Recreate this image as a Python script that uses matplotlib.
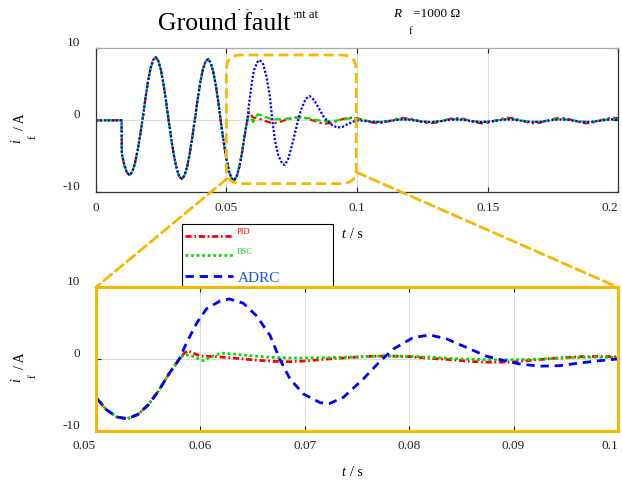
import numpy as np
import matplotlib.pyplot as plt
from matplotlib.patches import FancyBboxPatch, ConnectionPatch, Rectangle
from matplotlib.lines import Line2D
from matplotlib.ticker import FuncFormatter


# =========================
# DADOS
# =========================
# trecho comum às três curvas (ms, A)
t_comum_ms = [0, 9.9, 10, 11, 12, 13, 14, 15, 16, 17, 18, 19, 20, 21, 22, 23, 24,
              25, 26, 27, 28, 29, 30, 31, 32, 33, 34, 35, 36, 37, 38, 39, 40, 41,
              42, 43, 44, 45, 46, 47, 48, 49, 50, 51, 52, 53, 54, 55, 56, 57, 58]
i_comum = [0, 0, -4.66, -6.29, -7.30, -7.60, -7.15, -6.00, -4.27, -2.12, 0.26,
           2.97, 5.36, 7.24, 8.40, 8.75, 8.23, 6.91, 4.92, 2.44, -0.25, -2.76,
           -5.00, -6.74, -7.82, -8.15, -7.67, -6.44, -4.58, -2.27, 0.26, 2.88,
           5.21, 7.03, 8.16, 8.50, 8.00, 6.72, 4.78, 2.37, -0.53, -3.07, -5.32,
           -7.05, -8.09, -8.33, -7.76, -6.43, -4.47, -2.08, 0.0]

# depois da atuação de cada controlador
t_pid_ms = [58.4, 58.8, 59.3, 60, 61.5, 63, 65, 67, 68.5, 70, 72, 74, 76, 78, 80,
            82, 84, 86, 88, 90, 92, 94, 96, 98]
i_pid = [0.7, 1.15, 0.85, 0.4, 0.33, 0.16, -0.12, -0.33, -0.38, -0.28, -0.02,
         0.18, 0.36, 0.42, 0.33, 0.1, -0.1, -0.36, -0.46, -0.4, -0.15, 0.12,
         0.3, 0.36]

t_bsc_ms = [58.4, 59, 59.7, 60.3, 60.9, 62, 63.2, 64.8, 66.7, 68.6, 70.5, 72.5,
            75, 77.5, 80, 82, 84, 86, 88, 90, 92, 94, 96, 98]
i_bsc = [0.55, 0.56, 0.1, -0.23, 0.23, 0.83, 0.7, 0.47, 0.23, 0.14, 0.15, 0.2,
         0.3, 0.42, 0.37, 0.25, 0.08, -0.04, -0.1, -0.1, -0.04, 0.08, 0.22, 0.26]

t_adrc_ms = [58.7, 59.7, 60.6, 61.9, 62.8, 64.1, 65.4, 66.7, 67.6, 68.6, 69.9,
             71.5, 72.4, 73.7, 75.6, 77.2, 78.5, 80.4, 82, 83.6, 85.5, 87.4, 89,
             90.6, 92.5, 94.4, 96.3, 98.2]
i_adrc = [2.3, 5.1, 7.0, 8.1, 8.37, 7.8, 6.0, 3.25, 0.0, -2.8, -4.9, -6.1, -6.2,
          -5.35, -2.8, -0.35, 1.4, 3.0, 3.35, 2.8, 1.6, 0.4, -0.2, -0.7, -1.0,
          -0.93, -0.56, -0.24]

# regime (0.1 s a 0.2 s)
t_cauda_ms = [100, 102.5, 105, 107.5, 110, 112.5, 115, 117.5, 120, 122.5, 125,
              127.5, 130, 132.5, 135, 137.5, 140, 142.5, 145, 147.5, 150, 152.5,
              155, 157.5, 160, 162.5, 165, 167.5, 170, 172.5, 175, 177.5, 180,
              182.5, 185, 187.5, 190, 192.5, 195, 197.5, 200]
cauda_pid = [0.30, 0.03, -0.25, -0.40, -0.33, -0.09, 0.18, 0.32, 0.26, 0.02,
             -0.26, -0.42, -0.34, -0.09, 0.17, 0.31, 0.27, 0.03, -0.26, -0.42,
             -0.35, -0.09, 0.19, 0.35, 0.28, 0.03, -0.26, -0.42, -0.34, -0.08,
             0.19, 0.35, 0.28, 0.03, -0.26, -0.42, -0.34, -0.08, 0.19, 0.35, 0.30]
cauda_bsc = [0.20, 0.01, -0.14, -0.22, -0.18, -0.05, 0.10, 0.18, 0.14, 0.01,
             -0.14, -0.22, -0.18, -0.05, 0.10, 0.18, 0.14, 0.01, -0.14, -0.22,
             -0.18, -0.05, 0.10, 0.19, 0.15, 0.01, -0.14, -0.22, -0.18, -0.05,
             0.10, 0.19, 0.15, 0.01, -0.14, -0.22, -0.18, -0.05, 0.10, 0.19, 0.16]
cauda_adrc = [0.0, -0.06, -0.18, -0.25, -0.22, -0.10, 0.04, 0.11, 0.08, -0.04,
              -0.18, -0.25, -0.22, -0.10, 0.04, 0.11, 0.08, -0.04, -0.18, -0.25,
              -0.22, -0.10, 0.04, 0.12, 0.08, -0.04, -0.18, -0.25, -0.22, -0.10,
              0.04, 0.12, 0.08, -0.04, -0.18, -0.25, -0.22, -0.10, 0.04, 0.12, 0.10]

nomes = ["PID", "BSC", "ADRC"]


def serie(t_ms, i_vals, cauda):
    t = np.array(t_comum_ms + t_ms + t_cauda_ms) / 1000.0
    i = np.array(i_comum + i_vals + cauda)
    return t, i


t_pid, y_pid = serie(t_pid_ms, i_pid, cauda_pid)
t_bsc, y_bsc = serie(t_bsc_ms, i_bsc, cauda_bsc)
t_adrc, y_adrc = serie(t_adrc_ms, i_adrc, cauda_adrc)


# =========================
# ESTILO
# =========================
plt.rcParams['font.family'] = ['Liberation Serif', 'DejaVu Serif']
plt.rcParams['axes.unicode_minus'] = False
LARANJA = '#F7B800'
VERDE = '#00e000'
W, H = 622, 485


def fx(px):
    return px / W


def fy(py):
    return 1 - py / H


estilo_topo = [
    dict(color='red', ls=(0, (3, 1.5, 1, 1.5)), lw=1.6),
    dict(color=VERDE, ls=(0, (3, 1.5)), lw=1.6),
    dict(color='blue', ls=(0, (1, 0.8)), lw=1.6),
]
estilo_zoom = [
    dict(color='red', ls=(0, (2.2, 1, 0.6, 1)), lw=2),
    dict(color=VERDE, ls=(0, (1, 1)), lw=2),
    dict(color='blue', ls=(0, (3, 2.1)), lw=2),
]
series = [(t_pid, y_pid), (t_bsc, y_bsc), (t_adrc, y_adrc)]

fig = plt.figure(figsize=(6.22, 4.85), dpi=100)
ax1 = fig.add_axes([fx(95.7), fy(193.3), fx(618.3) - fx(95.7), (193.3 - 49.3) / H])
ax2 = fig.add_axes([fx(95.8), fy(431.7), fx(618) - fx(95.8), (431.7 - 288.3) / H])
ax2.set_zorder(5)

for (t, y), st in zip(series, estilo_topo):
    ax1.plot(t, y, **st)
for (t, y), st in zip(series, estilo_zoom):
    ax2.plot(t, y, **st)

ax1.set_xlim(0, 0.2)
ax1.set_xticks([0, 0.05, 0.1, 0.15, 0.2])
ax2.set_xlim(0.05, 0.1)
ax2.set_xticks([0.05, 0.06, 0.07, 0.08, 0.09, 0.1])

fmt = FuncFormatter(lambda v, p: f"{v:g}")
for ax in (ax1, ax2):
    ax.set_ylim(-10, 10)
    ax.set_yticks([-10, 0, 10])
    ax.xaxis.set_major_formatter(fmt)
    ax.grid(True, color='#dcdcdc', lw=0.8)
    ax.set_axisbelow(True)
    ax.tick_params(direction='in', top=True, right=True, length=3.5, width=0.8,
                   labelsize=9.5, colors='#222222')
    ax.tick_params(axis='x', pad=6)
    ax.tick_params(axis='y', pad=11)
    for lab in ax.get_yticklabels():
        lab.set_verticalalignment('bottom')
    # último rótulo de x encostado na borda direita
    ax.get_xticklabels()[-1].set_horizontalalignment('right')

ax2.get_xticklabels()[0].set_horizontalalignment('right')

for s in ax1.spines.values():
    s.set_color('#333333')
    s.set_linewidth(0.9)
ax1.spines['top'].set_color('#aaaaaa')

for s in ax2.spines.values():
    s.set_color(LARANJA)
    s.set_linewidth(2.2)

# caixa arredondada da região ampliada
caixa = FancyBboxPatch((0.05, -8.8), 0.0497, 17.87,
                       boxstyle='round,pad=0,rounding_size=0.0057',
                       mutation_aspect=363, fill=False, edgecolor=LARANJA,
                       lw=2, ls=(0, (3.6, 1.8)), clip_on=False, zorder=4)
ax1.add_patch(caixa)

for xa, xb in (((0.0503, -8.1), (0, 1)), ((0.0997, -7.2), (1, 1))):
    con = ConnectionPatch(xyA=xa, coordsA=ax1.transData, xyB=xb,
                          coordsB=ax2.transAxes, color=LARANJA, lw=2,
                          ls=(0, (3.6, 1.8)), zorder=1)
    fig.add_artist(con)

# legenda (fica por baixo do eixo ampliado)
fig.add_artist(Rectangle((fx(181.7), fy(300)), fx(333.3) - fx(181.7),
                         fy(225) - fy(300), transform=fig.transFigure,
                         facecolor='white', edgecolor='black', lw=0.8, zorder=1))
leg_y = [237, 256, 277]
for st, yy in zip(estilo_zoom, leg_y):
    fig.add_artist(Line2D([fx(185), fx(233)], [fy(yy), fy(yy)],
                          transform=fig.transFigure, zorder=2, **st))
fig.text(fx(237), fy(232.5), nomes[0], color='red', fontsize=6, va='center', zorder=3)
fig.text(fx(237), fy(252), nomes[1], color='#22cc22', fontsize=6, va='center', zorder=3)
fig.text(fx(238), fy(279), nomes[2], color='#2050e0', fontsize=11, va='center', zorder=3)

# rótulos dos eixos
for y0 in (0, 1):
    if y0 == 0:
        yi, ybar, yf, yt = 141, 122, 137, 235
    else:
        yi, ybar, yf, yt = 380, 361, 376, 473
    fig.text(fx(17), fy(yi), 'i', style='italic', rotation=90, fontsize=10,
             ha='center', va='center')
    fig.text(fx(20), fy(ybar), '/ A', rotation=90, fontsize=10,
             ha='center', va='center')
    fig.text(fx(33), fy(yf), 'f', rotation=90, fontsize=8,
             ha='center', va='center')
    fig.text(fx(343.5), fy(yt), 't', style='italic', fontsize=10,
             ha='center', va='center')
    fig.text(fx(350), fy(yt), '/ s', fontsize=10, ha='left', va='center')

# título (sobreposto como no original)
fig.text(fx(318), fy(17.5), 'Ground fault current at', fontsize=9,
         ha='right', va='baseline', zorder=1)
fig.add_artist(Rectangle((fx(150), fy(40)), fx(294) - fx(150), fy(11) - fy(40),
                         transform=fig.transFigure, facecolor='white',
                         edgecolor='none', zorder=2))
fig.text(fx(158), fy(30), 'Ground fault', fontsize=18.5, ha='left',
         va='baseline', zorder=3)
fig.text(fx(397), fy(14), 'R', style='italic', fontsize=9.5, ha='center', va='center')
fig.text(fx(411), fy(31), 'f', fontsize=8, ha='center', va='center')
fig.text(fx(413), fy(14), '=1000 Ω', fontsize=9.5, ha='left', va='center')

fig.savefig('out.png', dpi=100)
